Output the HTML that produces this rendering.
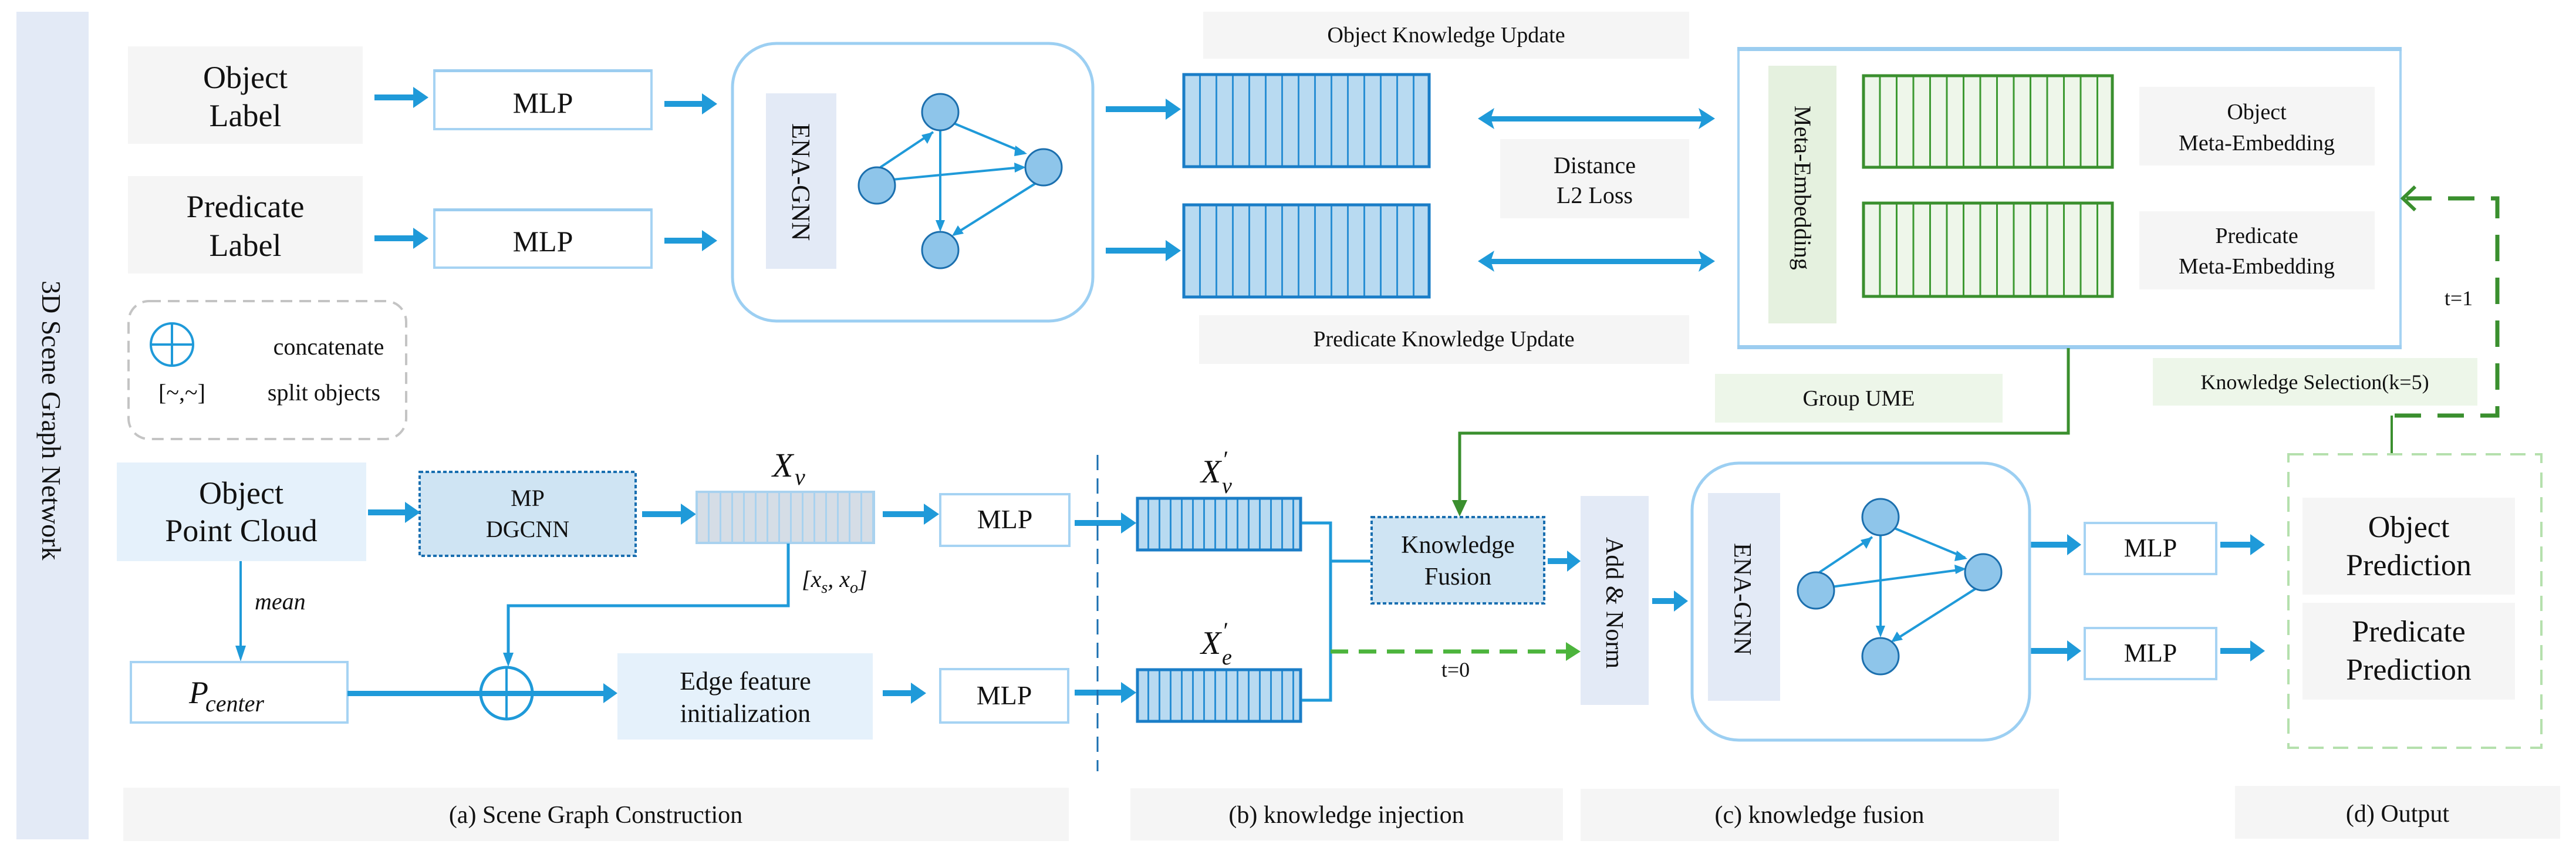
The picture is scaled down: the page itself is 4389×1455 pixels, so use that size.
<!DOCTYPE html>
<html><head><meta charset="utf-8"><style>
html,body{margin:0;padding:0;background:#fff;}
svg{display:block;}
text{font-family:"Liberation Serif",serif;fill:#111;}
</style></head><body>
<svg width="4389" height="1455" viewBox="0 0 4389 1455" xmlns="http://www.w3.org/2000/svg">
<defs>
<pattern id="pb1" x="2015" y="0" width="28" height="10" patternUnits="userSpaceOnUse"><rect width="28" height="10" fill="#b8daf1"/><rect x="0" width="3" height="10" fill="#2a8fd4"/></pattern>
<pattern id="pb2" x="1936" y="0" width="19" height="10" patternUnits="userSpaceOnUse"><rect width="19" height="10" fill="#b8daf1"/><rect x="0" width="3" height="10" fill="#2a8fd4"/></pattern>
<pattern id="pg1" x="3173" y="0" width="28.5" height="10" patternUnits="userSpaceOnUse"><rect width="28.5" height="10" fill="#eef6ea"/><rect x="0" width="3" height="10" fill="#3d9a32"/></pattern>
<pattern id="px" x="1186" y="0" width="20" height="10" patternUnits="userSpaceOnUse"><rect width="20" height="10" fill="#d5dde6"/><rect x="0" width="3" height="10" fill="#a9d2ef"/></pattern>
</defs>

<rect x="28" y="20" width="123" height="1410" fill="#e3eaf6"/>
<text transform="translate(72,478) rotate(90)" font-size="46">3D Scene Graph Network</text>

<rect x="218" y="79" width="400" height="166" fill="#f5f5f5"/>
<text x="418" y="150" font-size="54" text-anchor="middle">Object</text>
<text x="418" y="215" font-size="54" text-anchor="middle">Label</text>
<rect x="218" y="300" width="400" height="166" fill="#f5f5f5"/>
<text x="418" y="370" font-size="54" text-anchor="middle">Predicate</text>
<text x="418" y="436" font-size="54" text-anchor="middle">Label</text>

<g fill="#1f9ad9" stroke="none">
<rect x="638" y="161" width="70" height="10"/><polygon points="704,148 730,166 704,184"/>
<rect x="638" y="401" width="70" height="10"/><polygon points="704,388 730,406 704,424"/>
<rect x="1132" y="172" width="68" height="10"/><polygon points="1196,159 1222,177 1196,195"/>
<rect x="1132" y="405" width="68" height="10"/><polygon points="1196,392 1222,410 1196,428"/>
<rect x="1884" y="181" width="106" height="10"/><polygon points="1986,168 2012,186 1986,204"/>
<rect x="1884" y="422" width="106" height="10"/><polygon points="1986,409 2012,427 1986,445"/>
</g>

<rect x="740" y="120" width="370" height="100" fill="#fff" stroke="#a6d3f3" stroke-width="4"/>
<rect x="740" y="118" width="370" height="5" fill="#9ccdf0"/>
<text x="925" y="192" font-size="50" text-anchor="middle">MLP</text>
<rect x="740" y="357" width="370" height="99" fill="#fff" stroke="#a6d3f3" stroke-width="4"/>
<rect x="740" y="355" width="370" height="5" fill="#9ccdf0"/>
<text x="925" y="428" font-size="50" text-anchor="middle">MLP</text>

<rect x="1248" y="74" width="614" height="473" rx="75" fill="#fff" stroke="#9ccff2" stroke-width="5"/>
<rect x="1305" y="159" width="120" height="299" fill="#e3eaf6"/>
<text transform="translate(1350,210) rotate(90)" font-size="44">ENA-GNN</text>
<g stroke="#1f9ad9" stroke-width="4" fill="none">
<line x1="1500" y1="285" x2="1590" y2="225"/>
<line x1="1520" y1="306" x2="1740" y2="285"/>
<line x1="1625" y1="210" x2="1745" y2="260"/>
<line x1="1602" y1="222" x2="1602" y2="385"/>
<line x1="1765" y1="312" x2="1625" y2="400"/>
</g>
<g fill="#1f9ad9">
<polygon points="1590,225 1570,230 1580,245"/>
<polygon points="1748,285 1728,277 1729,294"/>
<polygon points="1750,262 1730,248 1728,266"/>
<polygon points="1602,395 1594,375 1610,375"/>
<polygon points="1622,402 1632,384 1642,398"/>
</g>
<g fill="#8ec5ea" stroke="#1b6fae" stroke-width="3">
<circle cx="1602" cy="191" r="31"/><circle cx="1494" cy="316" r="31"/><circle cx="1778" cy="285" r="31"/><circle cx="1602" cy="426" r="31"/>
</g>

<rect x="2050" y="20" width="828" height="80" fill="#f5f5f5"/>
<text x="2464" y="72" font-size="38" text-anchor="middle">Object Knowledge Update</text>
<rect x="2043" y="537" width="835" height="83" fill="#f5f5f5"/>
<text x="2460" y="590" font-size="38" text-anchor="middle">Predicate Knowledge Update</text>
<rect x="2017" y="127" width="418" height="157" fill="url(#pb1)" stroke="#1a7dc7" stroke-width="5"/>
<rect x="2017" y="349" width="418" height="157" fill="url(#pb1)" stroke="#1a7dc7" stroke-width="5"/>

<rect x="2556" y="237" width="322" height="135" fill="#f5f5f5"/>
<text x="2717" y="295" font-size="40" text-anchor="middle">Distance</text>
<text x="2717" y="346" font-size="40" text-anchor="middle">L2 Loss</text>
<g fill="#1f9ad9">
<rect x="2540" y="198" width="360" height="9"/><polygon points="2518,202 2546,184 2540,202 2546,220"/><polygon points="2922,202 2894,184 2900,202 2894,220"/>
<rect x="2540" y="441" width="360" height="9"/><polygon points="2518,445 2546,427 2540,445 2546,463"/><polygon points="2922,445 2894,427 2900,445 2894,463"/>
</g>

<rect x="2962" y="84" width="1128" height="508" fill="#fff" stroke="#a6d3f3" stroke-width="4"/>
<rect x="2960" y="80" width="1132" height="7" fill="#9ccdf0"/>
<rect x="2960" y="588" width="1132" height="7" fill="#9ccdf0"/>
<rect x="3013" y="112" width="116" height="439" fill="#e5f1df"/>
<text transform="translate(3058,180) rotate(90)" font-size="40">Meta-Embedding</text>
<rect x="3175" y="129" width="424" height="156" fill="url(#pg1)" stroke="#3a8f2e" stroke-width="5"/>
<rect x="3175" y="346" width="424" height="159" fill="url(#pg1)" stroke="#3a8f2e" stroke-width="5"/>
<rect x="3645" y="148" width="401" height="134" fill="#f5f5f5"/>
<text x="3845" y="203" font-size="38" text-anchor="middle">Object</text>
<text x="3845" y="256" font-size="38" text-anchor="middle">Meta-Embedding</text>
<rect x="3645" y="360" width="401" height="133" fill="#f5f5f5"/>
<text x="3845" y="414" font-size="38" text-anchor="middle">Predicate</text>
<text x="3845" y="466" font-size="38" text-anchor="middle">Meta-Embedding</text>

<g stroke="#3a8f2e" stroke-width="7" fill="none">
<path d="M4080,708 L4255,708 L4255,338 L4100,338" stroke-dasharray="45,28"/>
<polyline points="4115,318 4094,338 4115,358" stroke-width="6"/>
<line x1="4075" y1="708" x2="4075" y2="772" stroke-width="4"/>
<polyline points="3524,593 3524,738 2487,738 2487,860" stroke-width="5"/>
</g>
<polygon points="2474,852 2500,852 2487,880" fill="#3a8f2e"/>
<text x="4189" y="520" font-size="36" text-anchor="middle">t=1</text>
<rect x="3668" y="610" width="553" height="81" fill="#edf6e9"/>
<text x="3944" y="663" font-size="36" text-anchor="middle">Knowledge Selection(k=5)</text>
<rect x="2922" y="637" width="490" height="83" fill="#edf6e9"/>
<text x="3167" y="691" font-size="38" text-anchor="middle">Group UME</text>

<rect x="219" y="513" width="473" height="235" rx="35" fill="none" stroke="#c4c4c4" stroke-width="4" stroke-dasharray="20,12"/>
<circle cx="293" cy="587" r="36" fill="none" stroke="#1f9ad9" stroke-width="4"/>
<line x1="257" y1="587" x2="329" y2="587" stroke="#1f9ad9" stroke-width="4"/>
<line x1="293" y1="551" x2="293" y2="623" stroke="#1f9ad9" stroke-width="4"/>
<text x="560" y="604" font-size="40" text-anchor="middle">concatenate</text>
<text x="310" y="682" font-size="40" text-anchor="middle">[~,~]</text>
<text x="552" y="682" font-size="40" text-anchor="middle">split objects</text>

<rect x="199" y="788" width="425" height="168" fill="#e5f1fb"/>
<text x="411" y="858" font-size="54" text-anchor="middle">Object</text>
<text x="411" y="922" font-size="54" text-anchor="middle">Point Cloud</text>
<rect x="715" y="804" width="368" height="143" fill="#cfe4f3" stroke="#1a6fb0" stroke-width="4" stroke-dasharray="6,4"/>
<text x="899" y="862" font-size="40" text-anchor="middle">MP</text>
<text x="899" y="915" font-size="40" text-anchor="middle">DGCNN</text>
<g fill="#1f9ad9">
<rect x="627" y="868" width="66" height="10"/><polygon points="690,855 716,873 690,891"/>
<rect x="1094" y="871" width="70" height="10"/><polygon points="1160,858 1186,876 1160,894"/>
<rect x="1504" y="871" width="74" height="10"/><polygon points="1574,858 1600,876 1574,894"/>
<rect x="1831" y="886" width="83" height="10"/><polygon points="1910,873 1936,891 1910,909"/>
<rect x="1831" y="1175" width="83" height="10"/><polygon points="1910,1162 1936,1180 1910,1198"/>
<rect x="1504" y="1176" width="52" height="10"/><polygon points="1552,1163 1578,1181 1552,1199"/>
</g>
<rect x="1187" y="838" width="302" height="87" fill="url(#px)" stroke="#a9d2ef" stroke-width="4"/>
<text x="1316" y="812" font-size="58" font-style="italic">X</text><text x="1354" y="826" font-size="40" font-style="italic">v</text>
<rect x="1602" y="842" width="220" height="88" fill="#fff" stroke="#a6d3f3" stroke-width="4"/>
<text x="1712" y="900" font-size="46" text-anchor="middle">MLP</text>
<rect x="1602" y="1140" width="218" height="91" fill="#fff" stroke="#a6d3f3" stroke-width="4"/>
<text x="1711" y="1200" font-size="46" text-anchor="middle">MLP</text>

<line x1="1870" y1="775" x2="1870" y2="1314" stroke="#1a6fb0" stroke-width="3" stroke-dasharray="26,14"/>

<line x1="410" y1="956" x2="410" y2="1110" stroke="#1f9ad9" stroke-width="4"/>
<polygon points="401,1100 419,1100 410,1127" fill="#1f9ad9"/>
<text x="434" y="1038" font-size="40" font-style="italic">mean</text>
<rect x="223" y="1128" width="369" height="103" fill="#fff" stroke="#a6d3f3" stroke-width="4"/>
<text x="322" y="1198" font-size="54" font-style="italic">P</text><text x="350" y="1212" font-size="40" font-style="italic">center</text>
<polyline points="1343,926 1343,1032 866,1032 866,1120" fill="none" stroke="#1f9ad9" stroke-width="5"/>
<polygon points="857,1112 875,1112 866,1136" fill="#1f9ad9"/>
<text x="1366" y="1000" font-size="40" font-style="italic">[x<tspan font-size="28" dy="10">s</tspan><tspan dy="-10">, x</tspan><tspan font-size="28" dy="10">o</tspan><tspan dy="-10">]</tspan></text>
<rect x="592" y="1177" width="440" height="9" fill="#1f9ad9"/>
<polygon points="1028,1164 1052,1181 1028,1198" fill="#1f9ad9"/>
<circle cx="863" cy="1181" r="44" fill="none" stroke="#1f9ad9" stroke-width="5"/>
<line x1="863" y1="1137" x2="863" y2="1225" stroke="#1f9ad9" stroke-width="4"/>
<rect x="1052" y="1113" width="435" height="147" fill="#e5f1fb"/>
<text x="1270" y="1175" font-size="44" text-anchor="middle">Edge feature</text>
<text x="1270" y="1230" font-size="44" text-anchor="middle">initialization</text>

<text x="2046" y="822" font-size="56" font-style="italic">X</text><text x="2082" y="796" font-size="40" font-style="italic">′</text><text x="2082" y="840" font-size="38" font-style="italic">v</text>
<rect x="1938" y="849" width="278" height="88" fill="url(#pb2)" stroke="#1a7dc7" stroke-width="5"/>
<text x="2046" y="1114" font-size="56" font-style="italic">X</text><text x="2082" y="1088" font-size="40" font-style="italic">′</text><text x="2082" y="1132" font-size="38" font-style="italic">e</text>
<rect x="1938" y="1141" width="278" height="88" fill="url(#pb2)" stroke="#1a7dc7" stroke-width="5"/>
<polyline points="2218,891 2267,891 2267,1193 2218,1193" fill="none" stroke="#1f9ad9" stroke-width="5"/>
<line x1="2267" y1="956" x2="2335" y2="956" stroke="#1f9ad9" stroke-width="5"/>
<line x1="2267" y1="1110" x2="2672" y2="1110" stroke="#4cb43c" stroke-width="7" stroke-dasharray="30,18"/>
<polygon points="2668,1094 2693,1110 2668,1126" fill="#4cb43c"/>
<text x="2480" y="1153" font-size="36" text-anchor="middle">t=0</text>

<rect x="2337" y="881" width="294" height="147" fill="#cfe4f3" stroke="#1a6fb0" stroke-width="4" stroke-dasharray="6,4"/>
<text x="2484" y="942" font-size="42" text-anchor="middle">Knowledge</text>
<text x="2484" y="996" font-size="42" text-anchor="middle">Fusion</text>
<g fill="#1f9ad9">
<rect x="2637" y="951" width="36" height="10"/><polygon points="2670,938 2693,956 2670,974"/>
<rect x="2815" y="1019" width="40" height="10"/><polygon points="2852,1006 2876,1024 2852,1042"/>
<rect x="3460" y="923" width="66" height="10"/><polygon points="3522,910 3546,928 3522,946"/>
<rect x="3460" y="1104" width="66" height="10"/><polygon points="3522,1091 3546,1109 3522,1127"/>
<rect x="3783" y="923" width="54" height="10"/><polygon points="3834,910 3859,928 3834,946"/>
<rect x="3783" y="1104" width="54" height="10"/><polygon points="3834,1091 3859,1109 3834,1127"/>
</g>
<rect x="2693" y="845" width="116" height="356" fill="#e3eaf6"/>
<text transform="translate(2737,915) rotate(90)" font-size="42">Add &amp; Norm</text>

<rect x="2883" y="789" width="575" height="472" rx="80" fill="#fff" stroke="#9ccff2" stroke-width="5"/>
<rect x="2910" y="840" width="123" height="354" fill="#e3eaf6"/>
<text transform="translate(2955,925) rotate(90)" font-size="42">ENA-GNN</text>
<g stroke="#1f9ad9" stroke-width="4" fill="none">
<line x1="3100" y1="975" x2="3190" y2="915"/>
<line x1="3120" y1="1000" x2="3345" y2="970"/>
<line x1="3228" y1="900" x2="3348" y2="950"/>
<line x1="3204" y1="912" x2="3204" y2="1076"/>
<line x1="3366" y1="1003" x2="3226" y2="1092"/>
</g>
<g fill="#1f9ad9">
<polygon points="3190,915 3170,920 3180,935"/>
<polygon points="3350,969 3330,962 3332,978"/>
<polygon points="3352,952 3334,938 3330,956"/>
<polygon points="3204,1086 3196,1066 3212,1066"/>
<polygon points="3222,1094 3232,1076 3242,1090"/>
</g>
<g fill="#8ec5ea" stroke="#1b6fae" stroke-width="3">
<circle cx="3204" cy="881" r="31"/><circle cx="3094" cy="1006" r="31"/><circle cx="3379" cy="975" r="31"/><circle cx="3204" cy="1118" r="31"/>
</g>

<rect x="3552" y="891" width="224" height="87" fill="#fff" stroke="#a6d3f3" stroke-width="4"/>
<text x="3664" y="948" font-size="44" text-anchor="middle">MLP</text>
<rect x="3552" y="1070" width="224" height="87" fill="#fff" stroke="#a6d3f3" stroke-width="4"/>
<text x="3664" y="1127" font-size="44" text-anchor="middle">MLP</text>

<rect x="3899" y="774" width="431" height="500" fill="none" stroke="#b5e0ad" stroke-width="4" stroke-dasharray="26,16"/>
<rect x="3923" y="848" width="362" height="165" fill="#f5f5f5"/>
<text x="4104" y="915" font-size="52" text-anchor="middle">Object</text>
<text x="4104" y="980" font-size="52" text-anchor="middle">Prediction</text>
<rect x="3923" y="1027" width="362" height="165" fill="#f5f5f5"/>
<text x="4104" y="1093" font-size="52" text-anchor="middle">Predicate</text>
<text x="4104" y="1158" font-size="52" text-anchor="middle">Prediction</text>

<rect x="210" y="1342" width="1611" height="91" fill="#f5f5f5"/>
<text x="1015" y="1402" font-size="42" text-anchor="middle">(a) Scene Graph Construction</text>
<rect x="1926" y="1343" width="737" height="89" fill="#f5f5f5"/>
<text x="2294" y="1402" font-size="42" text-anchor="middle">(b) knowledge injection</text>
<rect x="2693" y="1344" width="815" height="89" fill="#f5f5f5"/>
<text x="3100" y="1402" font-size="42" text-anchor="middle">(c) knowledge fusion</text>
<rect x="3808" y="1339" width="554" height="90" fill="#f5f5f5"/>
<text x="4085" y="1400" font-size="42" text-anchor="middle">(d) Output</text>
</svg>
</body></html>
